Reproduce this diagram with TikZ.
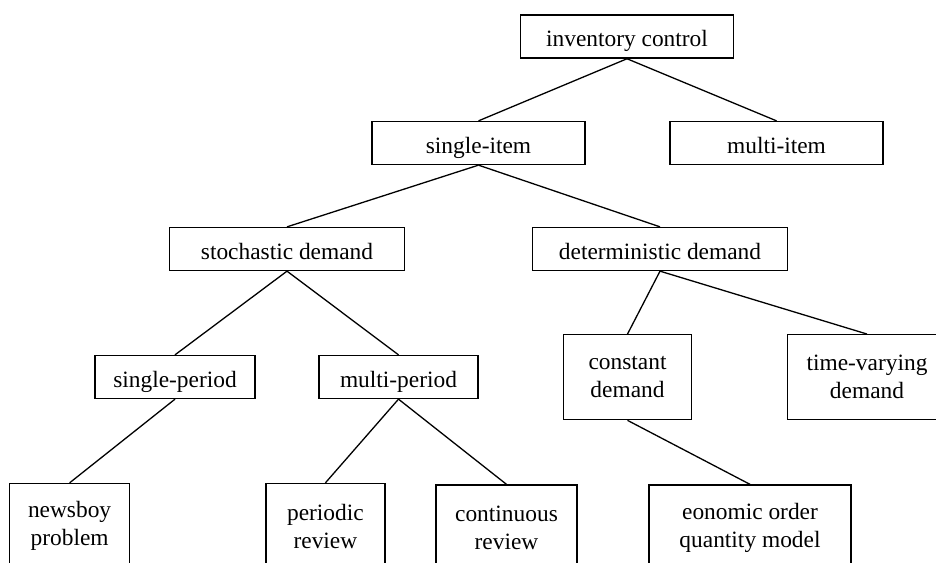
\documentclass[tikz,border=0pt]{standalone}
\usepackage{fontspec}
\setmainfont{Liberation Serif}
\begin{document}
\begin{tikzpicture}[x=1pt,y=-1pt,
  box/.style={draw, line width=1.3pt, inner sep=0pt, align=center,
    font=\fontsize{23.4}{28}\selectfont},
  one/.style={box, minimum height=43pt, text height=20pt, text depth=0pt},
  two/.style={box, minimum height=85pt},
  link/.style={line width=1.3pt}]
  \clip (0,0) rectangle (936,562);
  \fill[white] (0,0) rectangle (936,562);

  % level 0
  \node[one, minimum width=213pt] (ic)  at (627,36.6) {inventory control};
  % level 1
  \node[one, minimum width=213pt] (si)  at (478.5,143) {single-item};
  \node[one, minimum width=213pt] (mi)  at (776.5,143) {multi-item};
  % level 2
  \node[one, minimum width=234.6pt] (sd) at (287,249) {stochastic demand};
  \node[one, minimum width=255.5pt] (dd) at (660,249) {deterministic demand};
  % level 3
  \node[one, minimum width=160pt] (sp) at (175,377) {single-period};
  \node[one, minimum width=159pt] (mp) at (398.5,377) {multi-period};
  \node[two, minimum width=128pt] (cd) at (627.5,377.2) {constant\\demand};
  \node[two, minimum width=159pt] (tv) at (867,377.2) {time-varying\\demand};
  % level 4
  \node[two, minimum width=120pt] (nb)  at (69.6,526) {newsboy\\problem};
  \node[two, minimum width=119pt] (pr)  at (325.4,526) {periodic\\review};
  \node[two, minimum width=141pt] (cr)  at (506.5,527.5) {continuous\\review};
  \node[two, minimum width=202pt] (eoq) at (750,527.5) {eonomic order\\quantity model};

  % tree connectors
  \draw[link] (ic.south) -- (si.north);
  \draw[link] (ic.south) -- (mi.north);
  \draw[link] (si.south) -- (sd.north);
  \draw[link] (si.south) -- (dd.north);
  \draw[link] (sd.south) -- (sp.north);
  \draw[link] (sd.south) -- (mp.north);
  \draw[link] (dd.south) -- (cd.north);
  \draw[link] (dd.south) -- (tv.north);
  \draw[link] (sp.south) -- (nb.north);
  \draw[link] (mp.south) -- (pr.north);
  \draw[link] (mp.south) -- (cr.north);
  \draw[link] (cd.south) -- (eoq.north);
\end{tikzpicture}
\end{document}
